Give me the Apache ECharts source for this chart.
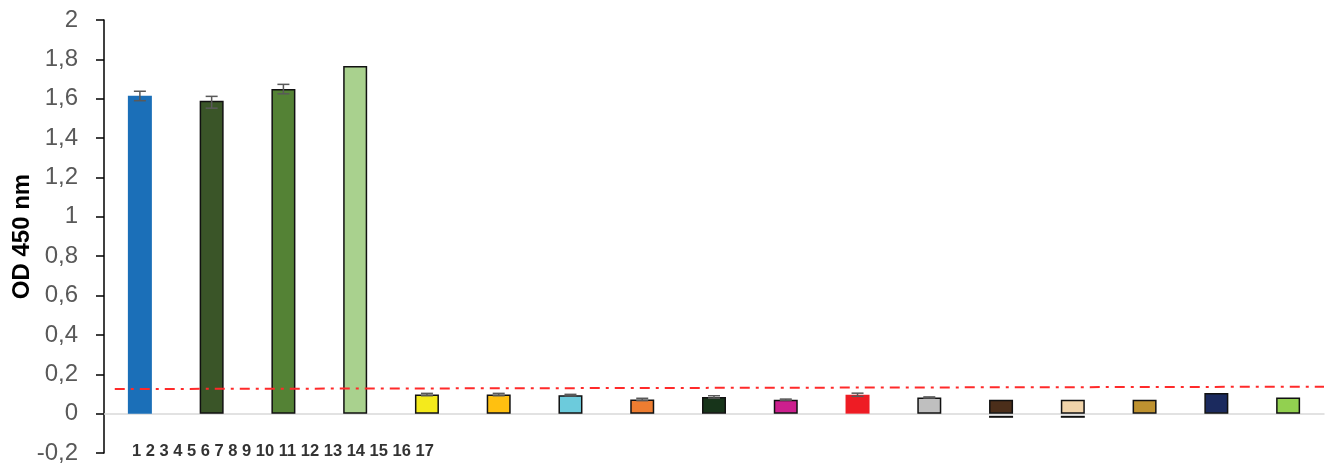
<!DOCTYPE html>
<html>
<head>
<meta charset="utf-8">
<script src="https://cdn.jsdelivr.net/npm/echarts@6/dist/echarts.min.js"></script>
<style>html,body{margin:0;padding:0;background:#fff}#c{width:1325px;height:468px}</style>
</head>
<body>
<div id="c"></div>
<script>
var categories = ['1','2','3','4','5','6','7','8','9','10','11','12','13','14','15','16','17'];
var tickLabels = ['1','2','3','4','5','6','7','8','9','10','11','12','13','14','15','16','17'];
var values = [1.615, 1.590, 1.649, 1.766, 0.097, 0.097, 0.094, 0.072, 0.085, 0.071, 0.096, 0.082, 0.071, 0.071, 0.071, 0.105, 0.082];
var errHigh = [0.023, 0.022, 0.024, 0, 0.006, 0.006, 0.004, 0.006, 0.006, 0.003, 0.008, 0.003, 0, 0, 0, 0, 0];
var errLow = [0.025, 0.038, 0.024, 0, 0.006, 0.006, 0.004, 0.006, 0.006, 0.003, 0.008, 0.003, 0.087, 0.087, 0, 0, 0];
var barColors = ['#1b6fb8','#3a5528','#548235','#a9d18e','#f4ea1c','#ffc010','#6ccbdc','#ed7d31','#17341a','#cc1f8e','#ee1c24','#bfbfbf','#4b2e1a','#f1d4aa','#be9230','#1b2a5e','#92d050'];
var hasBorder = [false,true,true,true,true,true,true,true,true,true,false,true,true,true,true,true,true];
var cutoffX = [0.15, 17];
var cutoffY = [0.125, 0.137];
var yTicks = [-0.2, 2, 0.2];

var chart = echarts.init(document.getElementById('c'));
var barData = values.map(function (v, i) {
  return {
    value: v,
    itemStyle: {
      color: barColors[i],
      borderColor: hasBorder[i] ? '#111' : barColors[i],
      borderWidth: hasBorder[i] ? 1.5 : 0
    }
  };
});
var errData = values.map(function (v, i) { return [i, v - errLow[i], v + errHigh[i]]; });

chart.setOption({
  animation: false,
  grid: { left: 104, right: 1, top: 20, bottom: 15, containLabel: false, outerBoundsMode: 'none' },
  xAxis: [{
    type: 'category', data: categories,
    axisLine: { onZero: true, lineStyle: { color: '#d9d9d9', width: 1.5 } },
    axisTick: { show: false }, axisLabel: { show: false }
  }, {
    type: 'value', min: 0, max: 17, show: false
  }],
  yAxis: {
    type: 'value', min: yTicks[0], max: yTicks[1], interval: yTicks[2],
    name: 'OD 450 nm', nameLocation: 'middle', nameGap: 70, nameRotate: 90, nameMoveOverlap: false,
    nameTextStyle: { fontFamily: 'Liberation Sans', fontWeight: 'bold', fontSize: 24, color: '#000' },
    axisLine: { show: true, lineStyle: { color: '#000', width: 1.5 } },
    axisTick: { show: true, inside: false, length: 8, lineStyle: { color: '#000', width: 1.5 } },
    splitLine: { show: false },
    axisLabel: {
      margin: 26, fontFamily: 'Liberation Sans', fontSize: 24, color: '#595959',
      formatter: function (v) { return String(Math.round(v * 10) / 10).replace('.', ','); }
    }
  },
  series: [{
    type: 'bar', data: barData, barWidth: 24, xAxisIndex: 0
  }, {
    type: 'custom', xAxisIndex: 0, data: errData, z: 5,
    renderItem: function (params, api) {
      var x = api.value(0);
      var lo = api.coord([x, api.value(1)]);
      var hi = api.coord([x, api.value(2)]);
      if (Math.abs(lo[1] - hi[1]) < 0.5) return null;
      var idx = params.dataIndex;
      var hw = 6;
      var isNeg = errLow[idx] > values[idx];
      var children = [];
      if (!isNeg) children.push({
        type: 'line', shape: { x1: lo[0], y1: lo[1], x2: hi[0], y2: hi[1] },
        style: { stroke: '#595959', lineWidth: 1.5 }
      });
      if (errHigh[idx] > 0) children.push({ type: 'line', shape: { x1: hi[0] - hw, y1: hi[1], x2: hi[0] + hw, y2: hi[1] }, style: { stroke: '#595959', lineWidth: 1.5 } });
      if (errLow[idx] > 0) {
        children.push({ type: 'line', shape: { x1: lo[0] - (isNeg ? 12 : hw), y1: lo[1], x2: lo[0] + (isNeg ? 12 : hw), y2: lo[1] }, style: { stroke: isNeg ? '#111' : '#595959', lineWidth: isNeg ? 2 : 1.5 } });
      }
      return { type: 'group', children: children };
    }
  }, {
    type: 'line', xAxisIndex: 1, symbol: 'none', z: 6,
    data: [[cutoffX[0], cutoffY[0]], [cutoffX[1], cutoffY[1]]],
    lineStyle: { color: '#ff2a2a', width: 2, type: [10, 6, 3, 6] }
  }],
  graphic: [{
    type: 'text', left: 132, top: 443,
    style: { text: tickLabels.join(' '), fontFamily: 'Liberation Sans', fontWeight: 'bold', fontSize: 16.5, fill: '#333' }
  }]
});
</script>
</body>
</html>
